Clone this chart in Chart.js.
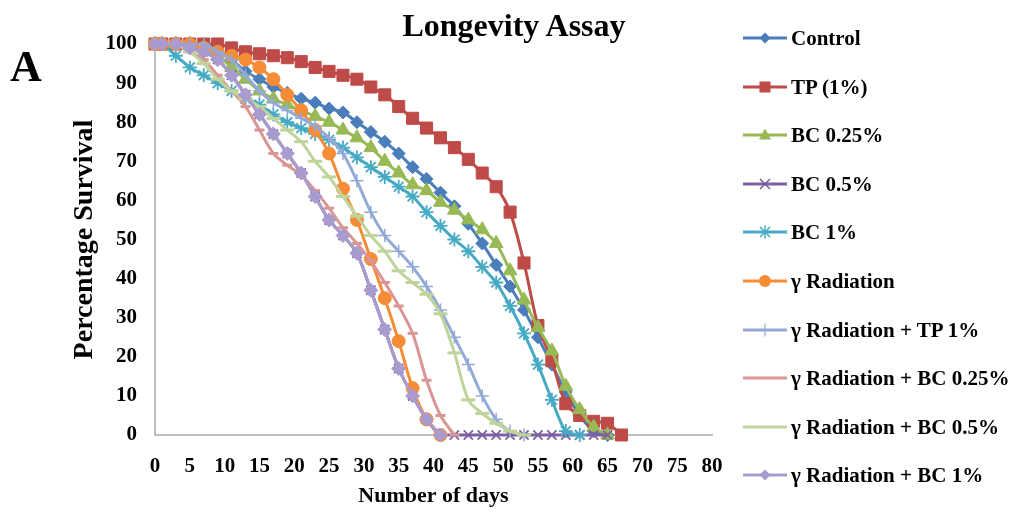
<!DOCTYPE html>
<html><head><meta charset="utf-8">
<script src="https://cdn.jsdelivr.net/npm/chart.js@4.4.1/dist/chart.umd.min.js"></script>
<style>
body{margin:0;background:#fff;}
#wrap{position:relative;width:1017px;height:514px;overflow:hidden;font-family:"Liberation Serif","Times New Roman",serif;font-weight:bold;color:#000;}
#c{position:absolute;left:0;top:0;}
#title{position:absolute;left:514px;top:9px;transform:translateX(-50%);white-space:nowrap;font-size:32px;line-height:32px;}
#panel{position:absolute;left:10px;top:45px;font-size:44px;line-height:44px;}
.leg{position:absolute;left:743px;height:24px;line-height:24px;font-size:21px;white-space:nowrap;}
.leg svg{position:absolute;left:0;top:0;}
.leg span{position:absolute;left:48px;top:0;}
</style></head>
<body><div id="wrap"><canvas id="c" width="1017" height="514"></canvas>
<div id="title">Longevity Assay</div><div id="panel">A</div><div id="legend"></div></div>
<script>
const days = [0,1,3,5,7,9,11,13,15,17,19,21,23,25,27,29,31,33,35,37,39,41,43,45,47,49,51,53,55,57,59,61,63,65,67];
const seriesNames = ["Control","TP (1%)","BC 0.25%","BC 0.5%","BC 1%","\u03b3 Radiation","\u03b3 Radiation + TP 1%","\u03b3 Radiation + BC 0.25%","\u03b3 Radiation + BC 0.5%","\u03b3 Radiation + BC 1%"];
const control = [100,100,100,100,99.5,98,96,93,91,89,87.5,86,85,83.5,82.5,80,77.5,75,72,68.5,65.5,62,58.5,54,49,43.5,38,32,25,18,11,5,1,0];
const tp1 = [100,100,100,100,100,100,99,98,97.5,97,96.5,95.5,94,93,92,91,89,87,84,81,78.5,76,73.5,70.5,67,63.5,57,44,28,19,8,5,3.5,3,0];
const bc025 = [100,100,100,100,99,97,94,91,88,86,84.5,83,81.5,80,78,76,73.5,70,67,64,62.5,59.5,57.5,55,52.5,49,42,34.5,27.5,21.5,12.5,6.5,2,0];
const bc05 = [100,100,100,99,98,96,92,87,82,77,72,67,61,55,51,46.5,37,27,17,10,4,0,0,0,0,0,0,0,0,0,0,0,0,0];
const bc1 = [100,100,97,94,92,90,88,86,84.5,82,80,78.5,77,75.5,73.5,71,68.5,66,63.5,61,57,53.5,50,47,43,39,33,26,18,9,1,0];
const gRad = [100,100,100,100,99,98,97,96,94,91,87,83,78,72,63,55,45,35,24,12,4,0];
const gTP1 = [100,100,100,100,100,98,96,92,88,85,83,81,79,76,72,65,57,51,47,43,38,32,25,18,10,4,1,0];
const gBC025 = [100,100,100,98,96,92,88,84,78,72,69,66.5,62.5,58,53,49,44.5,39,33,26,14,5,0];
const gBC05 = [100,100,100,98,95,91,88,86,84,81,78,75,70,66,61,56,51,47,42,39,36,31,21,9,5.5,3,1,0];
const gBC1 = [100,100,100,99,98,96,92,87,82,77,72,67,61,55,51,46.5,37,27,17,10,4,0];
const xTicks = {min:0, max:80, step:5};
const yTicks = {min:0, max:100, step:10};

const allSeries = [control,tp1,bc025,bc05,bc1,gRad,gTP1,gBC025,gBC05,gBC1];
const styles = [
  {c:'#4A7EBB', p:'rectRot', r:6.5, bw:1, m:'diamond'},
  {c:'#BE4B48', p:'rect', r:8.5, bw:1, m:'square'},
  {c:'#98B954', p:'triangle', r:8, bw:1, m:'triangle'},
  {c:'#7D60A0', p:'crossRot', r:6.5, bw:1.8, m:'x'},
  {c:'#46AAC5', p:'star', r:7, bw:1.8, m:'star'},
  {c:'#F68C36', p:'circle', r:6.5, bw:1, m:'circle'},
  {c:'#93A9D6', p:'cross', r:6.5, bw:1.5, m:'plus'},
  {c:'#D99694', p:'line', r:5, bw:3, m:'none'},
  {c:'#BFD49A', p:'line', r:7, bw:3, m:'none'},
  {c:'#A99BCD', p:'rectRot', r:7, bw:1, m:'diamond'}
];
const font = (s)=>({family:'"Liberation Serif","Times New Roman",serif', size:s, weight:'bold'});
const datasets = allSeries.map((vals,i)=>({
  label: seriesNames[i],
  data: vals.map((v,k)=>({x:days[k], y:v})),
  borderColor: styles[i].c, backgroundColor: styles[i].c,
  pointBackgroundColor: styles[i].c, pointBorderColor: styles[i].c,
  pointStyle: styles[i].p, pointRadius: styles[i].r, pointBorderWidth: styles[i].bw,
  borderWidth: 3, tension: 0.3, clip: false, order: -i
}));

new Chart(document.getElementById('c'), {
  type:'line',
  data:{datasets},
  options:{
    responsive:false, animation:false,
    layout:{padding:{left:66, top:44, right:305, bottom:0}},
    plugins:{legend:{display:false}, tooltip:{enabled:false}},
    scales:{
      x:{type:'linear', min:xTicks.min, max:xTicks.max,
        ticks:{stepSize:xTicks.step, padding:19, font:font(21), color:'#000', maxRotation:0, autoSkip:false},
        grid:{display:false, drawTicks:false},
        border:{display:true, color:'#BFBFBF', width:2},
        title:{display:true, text:'Number of days', font:font(22), color:'#000', padding:{top:0,bottom:4}},
        afterFit:(s)=>{s.height=79;}},
      y:{type:'linear', min:yTicks.min, max:yTicks.max,
        ticks:{stepSize:yTicks.step, padding:18, font:font(21), color:'#000'},
        grid:{display:false, drawTicks:false},
        border:{display:true, color:'#BFBFBF', width:2},
        title:{display:true, text:'Percentage Survival', font:font(28), color:'#000', padding:{top:2,bottom:0}},
        afterFit:(s)=>{s.width=89;}}
    }
  }
});

// legend
function icon(st){
  const c = st.c; let m = '';
  if (st.m==='diamond') m = `<polygon points="22,6.5 27.5,12 22,17.5 16.5,12" fill="${c}"/>`;
  else if (st.m==='square') m = `<rect x="16.5" y="6.5" width="11" height="11" fill="${c}"/>`;
  else if (st.m==='triangle') m = `<polygon points="22,5.5 28,16.5 16,16.5" fill="${c}"/>`;
  else if (st.m==='x') m = `<path d="M17,7 L27,17 M17,17 L27,7" stroke="${c}" stroke-width="1.5"/>`;
  else if (st.m==='star') m = `<path d="M17,7 L27,17 M17,17 L27,7 M22,5.5 L22,18.5" stroke="${c}" stroke-width="1.5"/>`;
  else if (st.m==='circle') m = `<circle cx="22" cy="12" r="6" fill="${c}"/>`;
  else if (st.m==='plus') m = `<path d="M22,5.5 L22,18.5" stroke="${c}" stroke-width="1.2"/>`;
  return `<svg width="44" height="24"><line x1="0" y1="12" x2="44" y2="12" stroke="${c}" stroke-width="3"/>${m}</svg>`;
}
const leg = document.getElementById('legend');
seriesNames.forEach((n,i)=>{
  const d = document.createElement('div');
  d.className='leg';
  d.style.top = (38 + 48.6*i - 12) + 'px';
  d.innerHTML = icon(styles[i]) + `<span>${n}</span>`;
  leg.appendChild(d);
});
</script></body></html>
